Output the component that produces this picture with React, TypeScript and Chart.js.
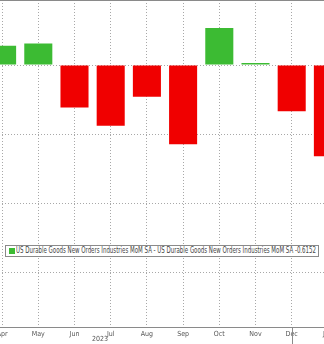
import React, { useEffect, useRef } from "react";
import { Chart, registerables } from "chart.js";

Chart.register(...registerables);

const months = ["Apr", "May", "Jun", "Jul", "Aug", "Sep", "Oct", "Nov", "Dec", "Jan"];
const values = [0.14, 0.157, -0.307, -0.44, -0.23, -0.573, 0.268, 0.015, -0.334, -0.66];
const yearLabel = "2023";
const yearMarkMonth = "Dec";
const legendText =
  "US Durable Goods New Orders Industries MoM SA - US Durable Goods New Orders Industries MoM SA -0.6152";

const GREEN = "#3cbb33";
const RED = "#f00000";
const GRID = "#a8a8a8";
const AXIS = "#8a8a8a";

const framePlugin = {
  id: "frameLines",
  afterDraw(chart: any) {
    const { ctx, chartArea, scales } = chart;
    ctx.save();
    ctx.strokeStyle = AXIS;
    ctx.lineWidth = 1;
    // top frame line
    ctx.beginPath();
    ctx.moveTo(chartArea.left, chartArea.top + 0.5);
    ctx.lineTo(chartArea.right, chartArea.top + 0.5);
    ctx.stroke();
    // year marker tick under the axis
    const idx = months.indexOf(yearMarkMonth);
    const x = Math.round(scales.x.getPixelForValue(idx)) + 0.5;
    ctx.beginPath();
    ctx.moveTo(x, chartArea.bottom);
    ctx.lineTo(x, chart.height);
    ctx.stroke();
    ctx.restore();
  },
};

export default function App() {
  const canvasRef = useRef<HTMLCanvasElement | null>(null);
  const textRef = useRef<HTMLSpanElement | null>(null);

  useEffect(() => {
    document.body.style.margin = "0";
    const canvas = canvasRef.current;
    if (!canvas) return;
    const chart = new Chart(canvas, {
      type: "bar",
      data: {
        labels: months,
        datasets: [
          {
            data: values,
            backgroundColor: values.map((v) => (v >= 0 ? GREEN : RED)),
            borderWidth: 0,
            categoryPercentage: 1,
            barPercentage: 0.775,
          },
        ],
      },
      options: {
        responsive: false,
        animation: false,
        events: [],
        layout: { padding: { top: 0, left: 0, right: 0, bottom: 4 } },
        plugins: { legend: { display: false }, tooltip: { enabled: false } },
        scales: {
          x: {
            offset: true,
            grid: {
              offset: false,
              color: GRID,
              drawTicks: false,
            },
            border: { display: true, color: AXIS, width: 1, dash: [1, 2] },
            ticks: {
              padding: 2,
              color: "#555",
              font: { family: "DejaVu Sans Condensed", size: 7 },
              maxRotation: 0,
              autoSkip: false,
            },
          },
          y: {
            min: -1.9,
            max: 0.471,
            grid: { color: GRID, drawTicks: false },
            border: { display: false, dash: [1, 2] },
            ticks: { display: false, stepSize: 0.5, includeBounds: false },
          },
        },
      },
      plugins: [framePlugin],
    });

    const span = textRef.current;
    if (span) {
      const w = span.getBoundingClientRect().width;
      if (w > 0) span.style.transform = `scaleX(${300 / w})`;
    }
    return () => chart.destroy();
  }, []);

  return (
    <div style={{ position: "relative", width: 324, height: 344, overflow: "hidden", background: "#fff" }}>
      <canvas
        ref={canvasRef}
        width={362}
        height={344}
        style={{ position: "absolute", left: -16, top: 0, width: 362, height: 344 }}
      />
      <div
        style={{
          position: "absolute",
          left: 5,
          top: 245,
          width: 314,
          height: 12,
          border: "1px solid #8a8a8a",
          background: "#fff",
          boxSizing: "border-box",
        }}
      >
        <div
          style={{
            position: "absolute",
            left: 3,
            top: 2,
            width: 6,
            height: 6,
            background: GREEN,
          }}
        />
        <span
          ref={textRef}
          style={{
            position: "absolute",
            left: 10,
            top: 0,
            whiteSpace: "nowrap",
            fontFamily: "DejaVu Sans Condensed",
            fontSize: 8,
            lineHeight: "10px",
            color: "#444",
            transformOrigin: "0 0",
          }}
        >
          {legendText}
        </span>
      </div>
      <div
        style={{
          position: "absolute",
          left: 100,
          top: 335,
          transform: "translateX(-50%)",
          fontFamily: "DejaVu Sans Condensed",
          fontSize: 7,
          lineHeight: "8px",
          color: "#555",
        }}
      >
        {yearLabel}
      </div>
    </div>
  );
}
